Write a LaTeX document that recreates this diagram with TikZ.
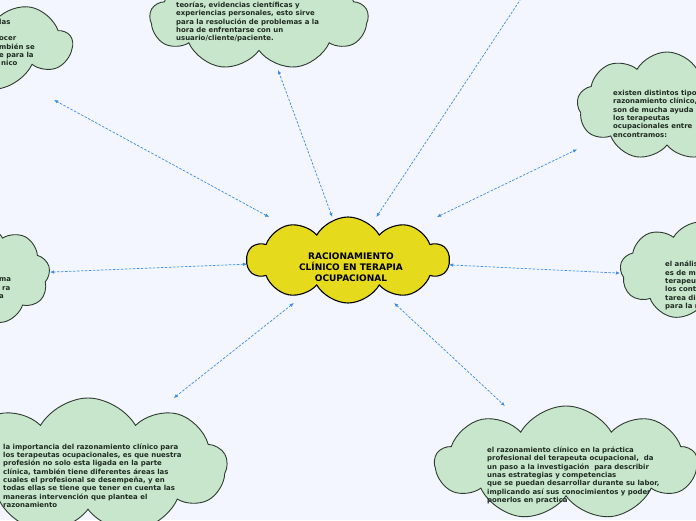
\documentclass[tikz,border=0pt]{standalone}
\usepackage{fontspec}
\setmainfont{DejaVu Sans}
\usetikzlibrary{shapes.symbols,arrows.meta}
\definecolor{bg}{HTML}{F3F6FE}
\definecolor{leaf}{HTML}{C8E6CB}
\definecolor{leafline}{HTML}{2E3B30}
\definecolor{core}{HTML}{E5DA1C}
\definecolor{linkblue}{HTML}{3A8BE5}
\definecolor{ink}{HTML}{1F2B22}
\tikzset{
 topicbox/.style={rectangle, inner sep=0pt, outer sep=0pt, draw=none},
 leafcloud/.style={cloud, cloud puffs=9, cloud puff arc=120, cloud ignores aspect, draw=leafline, fill=leaf, line width=0.9pt, inner sep=0pt},
 corecloud/.style={cloud, cloud puffs=10, cloud puff arc=120, cloud ignores aspect, draw=black, fill=core, line width=1.1pt, inner sep=0pt},
 leaftext/.style={font=\fontsize{6.95}{8.33}\selectfont\bfseries, text=ink, align=left, anchor=north west, inner sep=0pt},
 coretext/.style={font=\fontsize{9}{11}\selectfont\bfseries, text=black, align=center, inner sep=0pt},
 connector/.style={draw=linkblue, line width=0.7pt, dash pattern=on 2.5pt off 1.5pt, {Latex[length=4pt,width=3.5pt]}-{Latex[length=4pt,width=3.5pt]}}
}
\begin{document}
\begin{tikzpicture}[x=1pt,y=-1pt]
\useasboundingbox (0,0) rectangle (696,520);
\clip (0,0) rectangle (696,520);
\fill[bg] (0,0) rectangle (696,520);
% topic boxes (connector ends)
\node[topicbox, minimum width=202pt, minimum height=86pt] (core) at (348,260) {};
\node[topicbox, minimum width=230pt, minimum height=106pt] (tl) at (-43,47) {};
\node[topicbox, minimum width=218pt, minimum height=104pt] (tc) at (259,18) {};
\node[topicbox, minimum width=180pt, minimum height=108pt] (rt) at (667,106) {};
\node[topicbox, minimum width=140pt, minimum height=100pt] (lf) at (-20,275) {};
\node[topicbox, minimum width=160pt, minimum height=108pt] (rg) at (700,277) {};
\node[topicbox, minimum width=278pt, minimum height=136pt] (bl) at (88,466) {};
\node[topicbox, minimum width=262pt, minimum height=114pt] (br) at (566,463) {};
\coordinate (up) at (540,-30);
% clouds
\node[corecloud, minimum width=202pt, minimum height=86pt] (coreshape) at (core.center) {};
\node[leafcloud, minimum width=230pt, minimum height=96pt] (tlshape) at (-43,44) {};
\node[leafcloud, minimum width=218pt, minimum height=104pt] (tcshape) at (tc.center) {};
\node[leafcloud, minimum width=180pt, minimum height=108pt] (rtshape) at (rt.center) {};
\node[leafcloud, minimum width=140pt, minimum height=100pt] (lfshape) at (lf.center) {};
\node[leafcloud, minimum width=160pt, minimum height=98pt] (rgshape) at (700,271) {};
\node[leafcloud, minimum width=278pt, minimum height=136pt] (blshape) at (bl.center) {};
\node[leafcloud, minimum width=262pt, minimum height=114pt] (brshape) at (br.center) {};
% connectors
\draw[connector] (core) -- (tl);
\draw[connector] (core) -- (tc);
\draw[connector] (core) -- (up);
\draw[connector] (core) -- (rt);
\draw[connector] (core) -- (lf);
\draw[connector] (core) -- (rg);
\draw[connector] (core) -- (bl);
\draw[connector] (core) -- (br);
% texts
\node[coretext] (coret) at (351,267) {RACIONAMIENTO\\CLÍNICO EN TERAPIA\\OCUPACIONAL};
\node[leaftext] (tlt) at (-1,18.8) {las\\ \\ocer\\mbién se\\e para la\\\hspace{2pt}nico};
\node[leaftext] (tct) at (176,1.8) {teorías, evidencias científicas y\\experiencias personales, esto sirve\\para la resolución de problemas a la\\hora de enfrentarse con un\\usuario/cliente/paciente.};
\node[leaftext] (rtt) at (613,90.1) {existen distintos tipos\\razonamiento clínico,\\son de mucha ayuda\\los terapeutas\\ocupacionales entre\\encontramos:};
\node[leaftext] (lft) at (-1,277.8) {ma\\\hspace{3pt}ra\\a};
\node[leaftext] (rgt) at (665,261.1) {el análisis\\es de mu\\terapeut\\los conte\\tarea dia\\para la m};
\node[leaftext] (blt) at (3,443.5) {la importancia del razonamiento clínico para\\los terapeutas ocupacionales, es que nuestra\\profesión no solo esta ligada en la parte\\clínica, también tiene diferentes áreas las\\cuales el profesional se desempeña, y en\\todas ellas se tiene que tener en cuenta las\\maneras intervención que plantea el\\razonamiento};
\node[leaftext] (brt) at (487,446.8) {el razonamiento clínico en la práctica\\profesional del terapeuta ocupacional,~ da\\un paso a la investigación~ para describir\\unas estrategias y competencias\\que se puedan desarrollar durante su labor,\\implicando así sus conocimientos y poder\\ponerlos en practica};
\end{tikzpicture}
\end{document}
